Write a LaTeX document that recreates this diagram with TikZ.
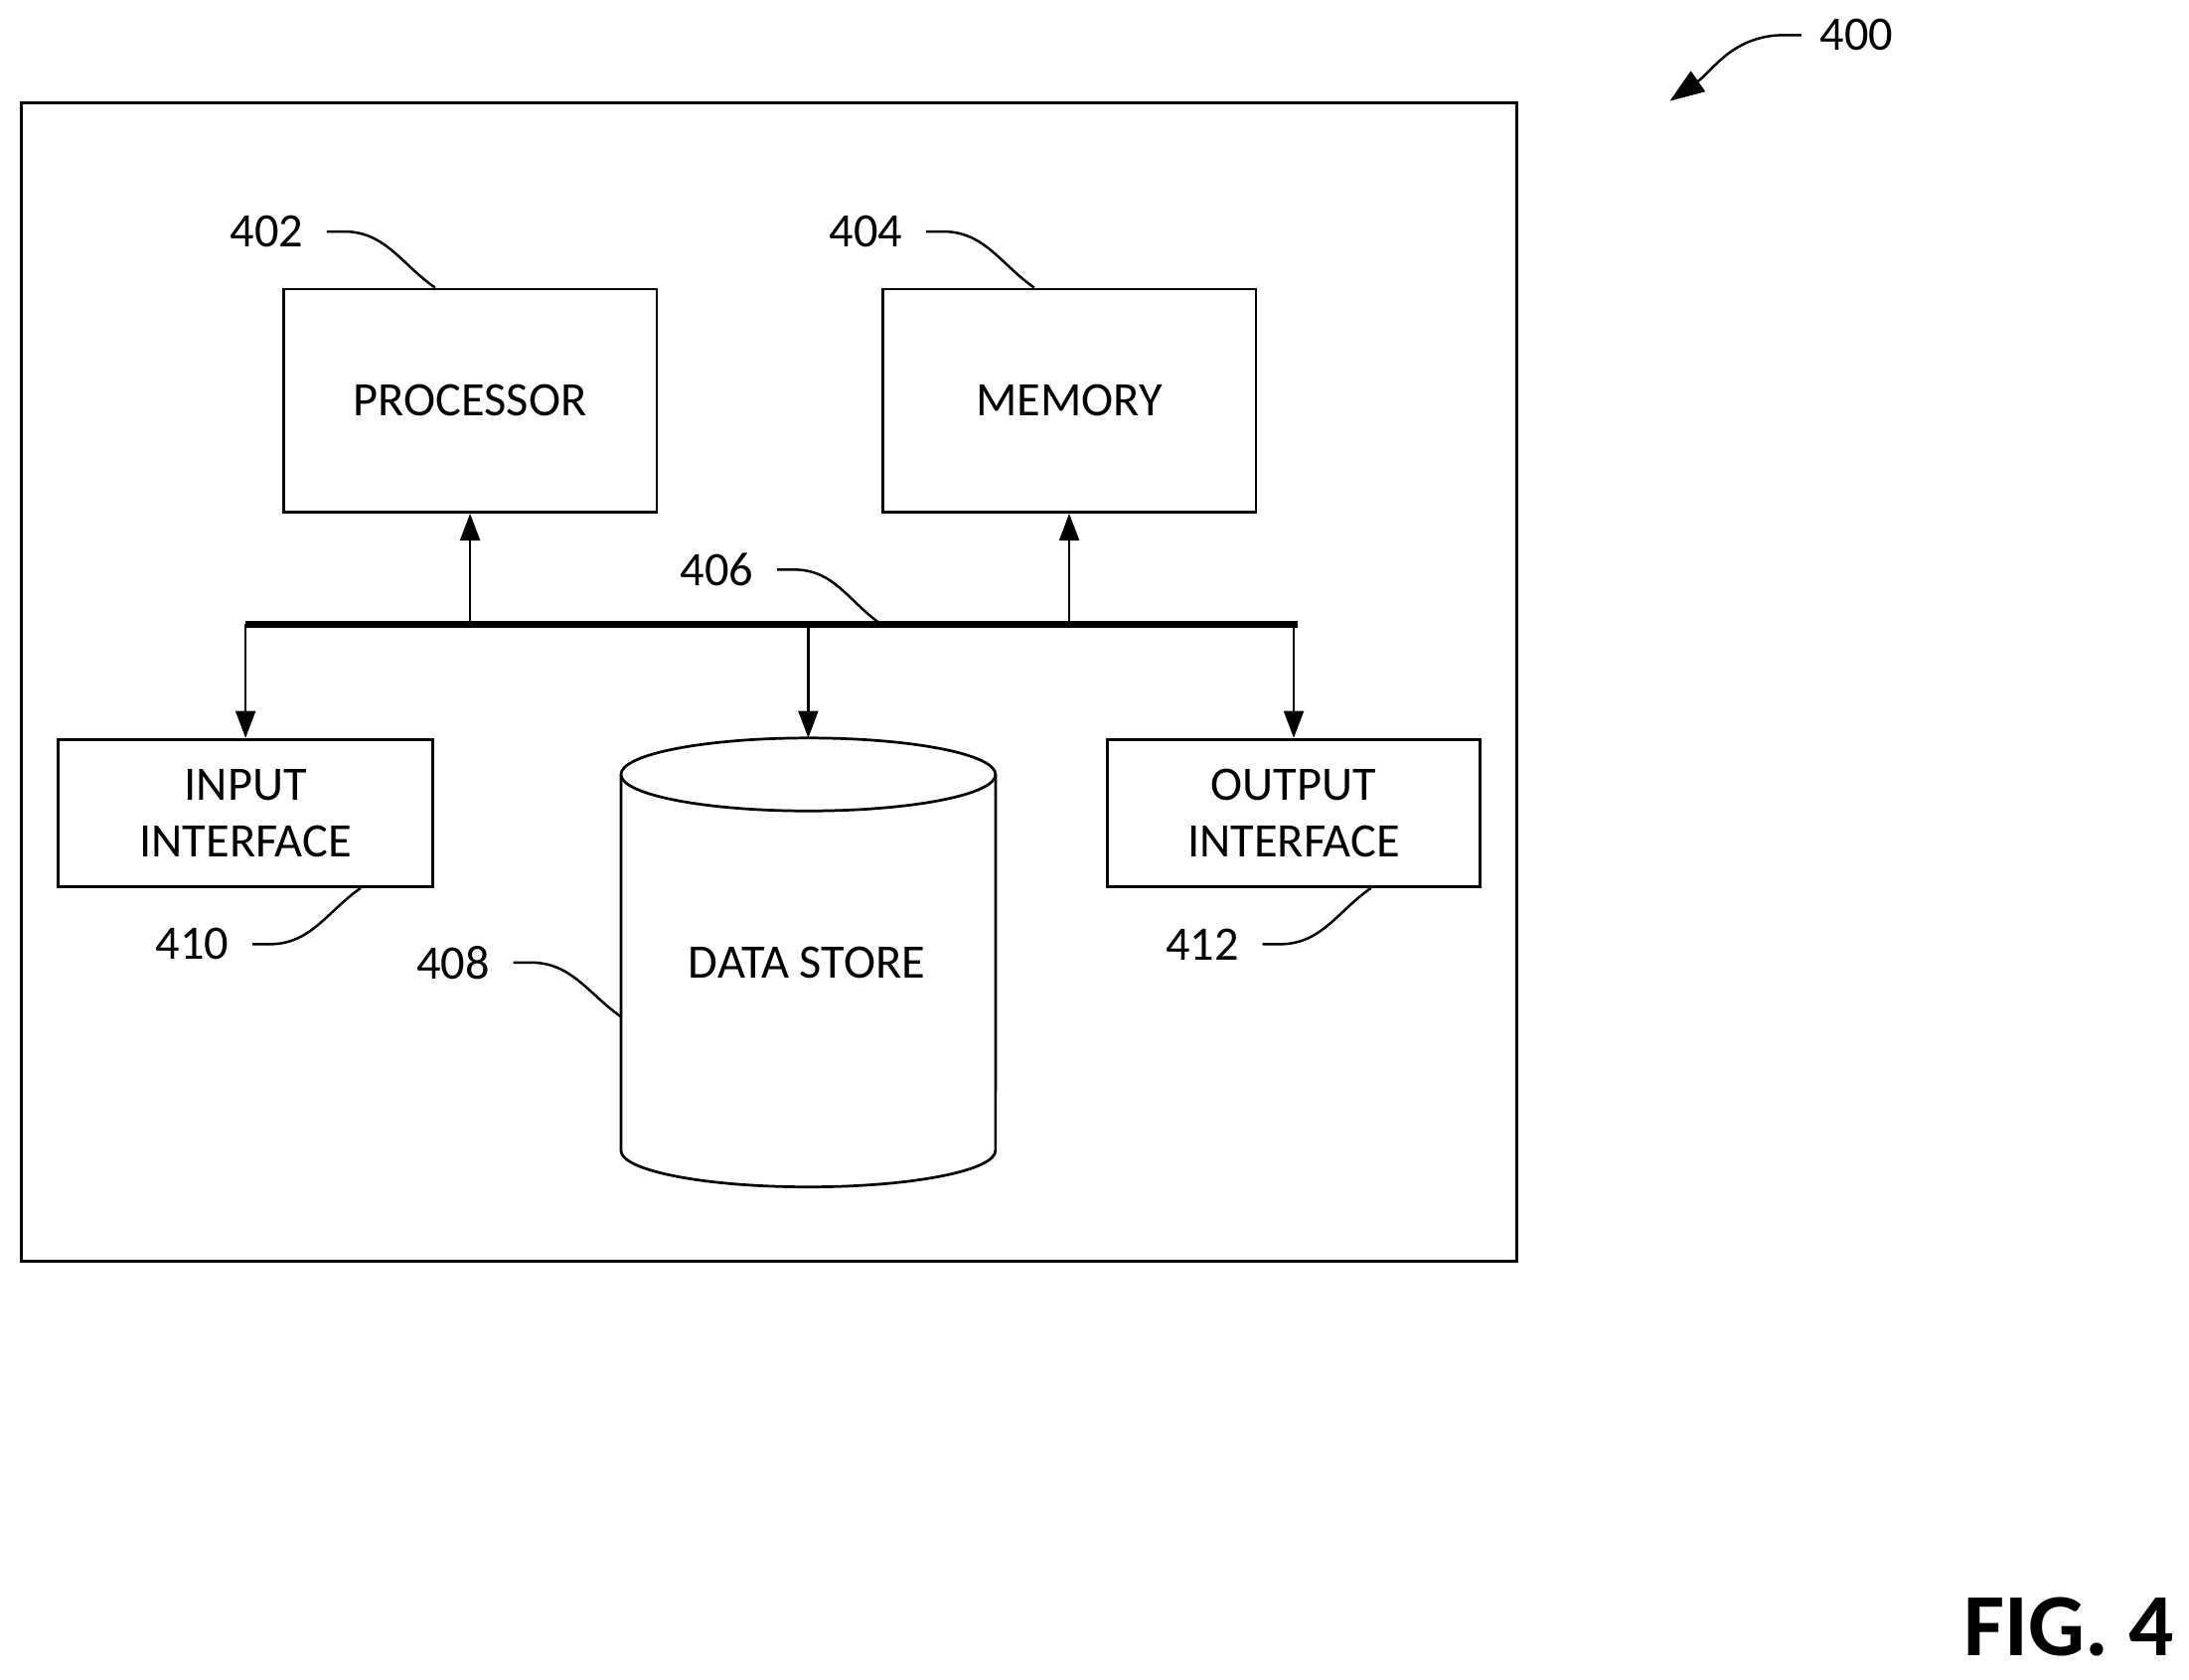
\documentclass[tikz,border=0pt]{standalone}
\usepackage{fontspec}
\setmainfont{Carlito}
\usetikzlibrary{positioning, arrows.meta}

\begin{document}
\begin{tikzpicture}[
    x=0.02cm, y=-0.02cm,
    line width=1.1pt,
    font=\fontsize{19.5}{23}\selectfont,
    unit/.style={rectangle, draw, line width=1.1pt, inner sep=0pt, align=center},
    ref/.style={inner sep=1pt},
    lead/.style={line width=1pt},
    arrow/.style={-{Triangle[length=11pt, width=8pt]}, line width=1.1pt},
    bus/.style={line width=2.8pt}
]
\useasboundingbox (0,0) rectangle (1560,1197);

% Outer frame
\node[unit, minimum width=21.32cm, minimum height=16.52cm] (frame) at (548,486) {};

% Units
\node[unit, minimum width=5.32cm, minimum height=3.18cm] (proc) at (335,285.5) {PROCESSOR};
\node[unit, minimum width=5.32cm, minimum height=3.18cm] (mem) at (762,285.5) {MEMORY};
\node[unit, minimum width=5.34cm, minimum height=2.1cm] (in) at (175,579.5) {INPUT\\INTERFACE};
\node[unit, minimum width=5.32cm, minimum height=2.1cm] (out) at (922,579.5) {OUTPUT\\INTERFACE};

% Data store cylinder
\coordinate (storetop) at (576,526);
\coordinate (storeleft) at (443,725);
\draw (576,552) ellipse [x radius=2.67cm, y radius=0.52cm];
\draw (442.5,552) -- (442.5,820) arc [start angle=180, end angle=360, x radius=2.67cm, y radius=0.52cm] -- (709.5,552);
\node (store) at (575,686) {DATA STORE};

% Bus
\coordinate (busL) at (175,445);
\coordinate (busR) at (925,445);
\draw[bus] (busL) -- (busR);
\draw[arrow] (proc.south |- busL) -- (proc.south);
\draw[arrow] (mem.south |- busL) -- (mem.south);
\draw[arrow] (in.north |- busL) -- (in.north);
\draw[arrow] (out.north |- busL) -- (out.north);
\draw[arrow] (storetop |- busL) -- (storetop);

% Reference numerals
\node[ref] (r402) at (190,165) {402};
\node[ref] (r404) at (617,165) {404};
\node[ref] (r406) at (511,406) {406};
\node[ref] (r410) at (137,673) {410};
\node[ref] (r412) at (857,673) {412};
\node[ref] (r408) at (323,686) {408};
\node[ref] (r400) at (1323,25) {400};
\node[font=\fontsize{36}{40}\selectfont\bfseries, anchor=base east, inner sep=0pt] (fig) at (1550,1180) {FIG. 4};

% Leader lines
\coordinate (a402) at (310,205);
\coordinate (a404) at (737,205);
\coordinate (a406) at (628,445);
\coordinate (a410) at (257,633);
\coordinate (a412) at (977,633);
\coordinate (a400) at (1190,72);
\draw[lead] ([xshift=8pt]r402.east) -- ++(12,0) to[out=0, in=145] (a402);
\draw[lead] ([xshift=8pt]r404.east) -- ++(12,0) to[out=0, in=145] (a404);
\draw[lead] ([xshift=8pt]r406.east) -- ++(12,0) to[out=0, in=145] (a406);
\draw[lead] ([xshift=8pt]r410.east) -- ++(12,0) to[out=0, in=215] (a410);
\draw[lead] ([xshift=8pt]r412.east) -- ++(12,0) to[out=0, in=215] (a412);
\draw[lead] ([xshift=8pt]r408.east) -- ++(12,0) to[out=0, in=145] (storeleft);
\draw[-{Triangle[length=14pt, width=10pt]}, lead] ([xshift=-6pt]r400.west) -- ++(-12,0) to[out=180, in=35] (a400);
\end{tikzpicture}
\end{document}
